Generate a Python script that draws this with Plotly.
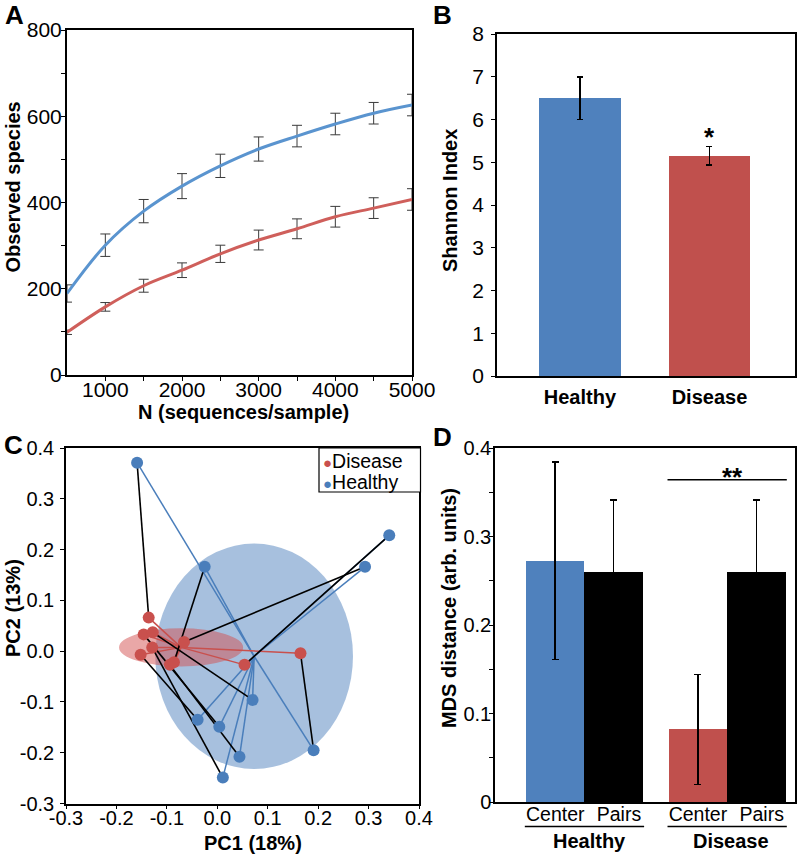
import plotly.graph_objects as go
import numpy as np

# ---------------- data ----------------
# Panel A: rarefaction
n_seq = [500, 1000, 1500, 2000, 2500, 3000, 3500, 4000, 4500, 5000]
healthy_obs = [189, 301, 380, 438, 485, 524, 554, 582, 607, 626]
healthy_err = [20, 26, 27, 29, 27, 28, 25, 25, 25, 25]
disease_obs = [99, 158, 207, 243, 281, 313, 339, 367, 387, 407]
disease_err = [5, 10, 15, 17, 20, 23, 23, 24, 24, 25]

# Panel B: Shannon index
shannon_groups = ["Healthy", "Disease"]
shannon_mean = [6.5, 5.15]
shannon_err = [0.5, 0.22]

# Panel C: PCoA
healthy_pc1 = [-0.159, -0.025, 0.341, 0.293, 0.070, -0.039, 0.004, 0.044, 0.011, 0.191]
healthy_pc2 = [0.371, 0.166, 0.228, 0.166, -0.096, -0.135, -0.149, -0.208, -0.249, -0.195]
disease_pc1 = [-0.136, -0.146, -0.128, -0.129, -0.152, -0.066, -0.094, -0.086, 0.054, 0.165]
disease_pc2 = [0.066, 0.033, 0.037, 0.007, -0.007, 0.018, -0.027, -0.022, -0.027, -0.004]
pair_healthy_idx = [0, 6, 4, 8, 5, 3, 7, 1, 2, 9]   # healthy partner of each disease sample
healthy_ellipse_radii = [0.196, 0.222]
disease_ellipse_radii = [0.123, 0.0375]
pc_ticks = [-0.3, -0.2, -0.1, 0.0, 0.1, 0.2, 0.3, 0.4]
pc_ticktext = ["-0.3", "-0.2", "-0.1", "0.0", "0.1", "0.2", "0.3", "0.4"]

# Panel D: MDS distances
mds_group = ["Healthy", "Healthy", "Disease", "Disease"]
mds_type = ["Center", "Pairs", "Center", "Pairs"]
mds_mean = [0.272, 0.260, 0.082, 0.260]
mds_err_plus = [0.112, 0.081, 0.062, 0.081]
mds_err_minus = [0.111, 0.078, 0.062, 0.078]
mds_ticks = [0, 0.1, 0.2, 0.3, 0.4]
mds_ticktext = ["0", "0.1", "0.2", "0.3", "0.4"]

# ---------------- style ----------------
FONT = "Liberation Sans, Arial, sans-serif"
BLUE = "#4f81bd"
RED = "#c0504d"
BLUE_PT = "#4a7ebb"
RED_PT = "#c9504d"
W, H = 800, 858


def px(x):
    return x / W


def py(y):
    return 1 - y / H


fig = go.Figure()

# ---- Panel A ----
fig.add_trace(go.Scatter(x=n_seq, y=healthy_obs, mode="lines",
                         line=dict(color="#5a94cf", width=3, shape="spline"),
                         error_y=dict(type="data", array=healthy_err, color="#3a3a3a", thickness=1, width=5),
                         cliponaxis=False, xaxis="x", yaxis="y", showlegend=False))
fig.add_trace(go.Scatter(x=n_seq, y=disease_obs, mode="lines",
                         line=dict(color="#cf5f5b", width=3, shape="spline"),
                         error_y=dict(type="data", array=disease_err, color="#3a3a3a", thickness=1, width=5),
                         cliponaxis=False, xaxis="x", yaxis="y", showlegend=False))

# ---- Panel B ----
fig.add_trace(go.Bar(x=shannon_groups, y=shannon_mean, width=0.63,
                     marker=dict(color=[BLUE, RED], line=dict(width=0)),
                     error_y=dict(type="data", array=shannon_err, color="black", thickness=1.5, width=3),
                     xaxis="x2", yaxis="y2", showlegend=False))

# ---- Panel C ----
hc = (float(np.mean(healthy_pc1)), float(np.mean(healthy_pc2)))
dc = (float(np.mean(disease_pc1)), float(np.mean(disease_pc2)))

# blue spokes to healthy centroid
bx, by = [], []
for a, b in zip(healthy_pc1, healthy_pc2):
    bx += [a, hc[0], None]
    by += [b, hc[1], None]
fig.add_trace(go.Scatter(x=bx, y=by, mode="lines", line=dict(color=BLUE_PT, width=1.5),
                         xaxis="x3", yaxis="y3", showlegend=False))
# red spokes to disease centroid
rx, ry = [], []
for a, b in zip(disease_pc1, disease_pc2):
    rx += [a, dc[0], None]
    ry += [b, dc[1], None]
fig.add_trace(go.Scatter(x=rx, y=ry, mode="lines", line=dict(color=RED_PT, width=1.5),
                         xaxis="x3", yaxis="y3", showlegend=False))
# black pair lines
kx, ky = [], []
for i, j in enumerate(pair_healthy_idx):
    kx += [disease_pc1[i], healthy_pc1[j], None]
    ky += [disease_pc2[i], healthy_pc2[j], None]
fig.add_trace(go.Scatter(x=kx, y=ky, mode="lines", line=dict(color="black", width=1.6),
                         xaxis="x3", yaxis="y3", showlegend=False))
fig.add_trace(go.Scatter(x=healthy_pc1, y=healthy_pc2, mode="markers",
                         marker=dict(color=BLUE_PT, size=12, line=dict(width=0)),
                         xaxis="x3", yaxis="y3", showlegend=False, cliponaxis=False))
fig.add_trace(go.Scatter(x=disease_pc1, y=disease_pc2, mode="markers",
                         marker=dict(color=RED_PT, size=12, line=dict(width=0)),
                         xaxis="x3", yaxis="y3", showlegend=False, cliponaxis=False))

# ---- Panel D ----
mds_pos = [1, 2, 3.44, 4.44]
label_offset = [0, 0.09, 0, 0.09]   # small horizontal nudge of the tick labels
mds_label_pos = [p + o for p, o in zip(mds_pos, label_offset)]
fig.add_trace(go.Bar(x=mds_pos, y=mds_mean, width=1.0,
                     marker=dict(color=[BLUE, "black", RED, "black"], line=dict(width=0)),
                     error_y=dict(type="data", array=mds_err_plus, arrayminus=mds_err_minus,
                                  color="black", thickness=1.5, width=3.5),
                     xaxis="x4", yaxis="y4", showlegend=False))

# ---------------- axes ----------------
tickfont = dict(family=FONT, size=21, color="black")
tickfont_s = dict(family=FONT, size=20, color="black")
common = dict(showgrid=False, zeroline=False, showline=True, linecolor="black", automargin=False,
              ticks="outside", tickcolor="black", ticklen=4, tickwidth=1.2, mirror=True)
common_nt = dict(showgrid=False, zeroline=False, showline=True, linecolor="black", automargin=False,
                 mirror=True, ticks="")

fig.update_layout(
    xaxis=dict(domain=[px(67), px(412)], range=[500, 5000], anchor="y",
               tickvals=[1000, 2000, 3000, 4000, 5000], linewidth=2, tickfont=tickfont,
               ticklabelstandoff=-9,
               minor=dict(tickvals=[1500, 2500, 3500, 4500], ticks="outside", ticklen=4, tickcolor="black"),
               **common),
    yaxis=dict(domain=[py(375), py(30)], range=[0, 800], anchor="x",
               tickvals=[0, 200, 400, 600, 800], linewidth=2, tickfont=tickfont,
               ticklabelstandoff=-5,
               minor=dict(tickvals=[100, 300, 500, 700], ticks="outside", ticklen=4, tickcolor="black"),
               **common),
    xaxis2=dict(domain=[px(497), px(795)], range=[-0.64, 1.66], anchor="y2", type="category",
                tickvals=shannon_groups, ticktext=["<b>%s</b>" % g for g in shannon_groups],
                tickfont=dict(family=FONT, size=20, color="black"), linewidth=1.5,
                ticklabelstandoff=2, **common_nt),
    yaxis2=dict(domain=[py(376), py(34)], range=[0, 8], anchor="x2", dtick=1, tickfont=tickfont,
                ticklabelstandoff=3, linewidth=1.5, **common),
    xaxis3=dict(domain=[px(66), px(419)], range=[-0.3, 0.4], anchor="y3",
                tickvals=pc_ticks, ticktext=pc_ticktext, tickfont=tickfont_s, linewidth=1.5,
                ticklabelstandoff=-8, **common),
    yaxis3=dict(domain=[py(803.5), py(448)], range=[-0.3, 0.4], anchor="x3",
                tickvals=pc_ticks, ticktext=pc_ticktext, tickfont=tickfont_s, linewidth=1.5,
                ticklabelstandoff=2, **common),
    xaxis4=dict(domain=[px(495), px(795)], range=[-0.03, 5.1], anchor="y4",
                tickvals=mds_label_pos, ticktext=mds_type, tickfont=dict(family=FONT, size=19.5, color="black"),
                linewidth=1.5, ticklabelstandoff=-6, **common_nt),
    yaxis4=dict(domain=[py(802), py(448)], range=[0, 0.4], anchor="x4",
                tickvals=mds_ticks, ticktext=mds_ticktext, tickfont=tickfont_s, linewidth=1.5,
                ticklabelstandoff=-6,
                minor=dict(tickvals=[0.05, 0.15, 0.25, 0.35], ticks="outside", ticklen=4, tickcolor="black"),
                **common),
)

# ---------------- shapes ----------------
shapes = [
    dict(type="circle", xref="x3", yref="y3",
         x0=hc[0] - healthy_ellipse_radii[0], x1=hc[0] + healthy_ellipse_radii[0],
         y0=hc[1] - healthy_ellipse_radii[1], y1=hc[1] + healthy_ellipse_radii[1],
         fillcolor="rgba(79,129,189,0.5)", line=dict(width=0), layer="below"),
    dict(type="circle", xref="x3", yref="y3",
         x0=dc[0] - disease_ellipse_radii[0], x1=dc[0] + disease_ellipse_radii[0],
         y0=dc[1] - disease_ellipse_radii[1], y1=dc[1] + disease_ellipse_radii[1],
         fillcolor="rgba(212,80,80,0.5)", line=dict(width=0), layer="below"),
    # legend box
    dict(type="rect", xref="paper", yref="paper", x0=px(319), x1=px(420.5), y0=py(492), y1=py(448),
         line=dict(color="black", width=1.2), fillcolor="white"),
    # panel D group underlines
    dict(type="line", xref="x4", yref="paper", x0=mds_pos[0] - 0.52, x1=mds_pos[1] + 0.52,
         y0=py(826.5), y1=py(826.5), line=dict(color="black", width=1.5)),
    dict(type="line", xref="x4", yref="paper", x0=mds_pos[2] - 0.52, x1=mds_pos[3] + 0.52,
         y0=py(826.5), y1=py(826.5), line=dict(color="black", width=1.5)),
    # significance bar
    dict(type="line", xref="x4", yref="y4", x0=mds_pos[2] - 0.52, x1=mds_pos[3] + 0.52,
         y0=0.364, y1=0.364, line=dict(color="black", width=1.5)),
]
fig.update_layout(shapes=shapes)

# ---------------- annotations ----------------
ann = []


def text(x, y, s, size=20, angle=0, xanchor="center", yanchor="middle", **kw):
    ann.append(dict(x=x, y=y, xref=kw.pop("xref", "paper"), yref=kw.pop("yref", "paper"),
                    text=s, showarrow=False, textangle=angle, xanchor=xanchor, yanchor=yanchor,
                    font=dict(family=FONT, size=size, color="black"), **kw))


# panel letters
text(px(14), py(15), "<b>A</b>", size=26)
text(px(442.5), py(15), "<b>B</b>", size=26)
text(px(13.5), py(445), "<b>C</b>", size=26)
text(px(442.5), py(437), "<b>D</b>", size=26)

# axis titles
text(px(12.5), py(187), "<b>Observed species</b>", angle=-90)
text(px(243.5), py(412), "<b>N (sequences/sample)</b>")
text(px(450), py(201), "<b>Shannon Index</b>", angle=-90)
text(px(13), py(608), "<b>PC2 (13%)</b>", angle=-90)
text(px(253), py(843), "<b>PC1 (18%)</b>")
text(px(449), py(608), "<b>MDS distance (arb. units)</b>", angle=-90)
text(px(589), py(841), "<b>Healthy</b>")
text(px(731), py(841), "<b>Disease</b>")

# significance marks
text("Disease", shannon_mean[1] + shannon_err[1], "<b>*</b>", size=26, yanchor="bottom",
     xref="x2", yref="y2", yshift=-8)
text(4.03, 0.364, "<b>**</b>", size=26, yanchor="bottom", xref="x4", yref="y4", yshift=-14)

# legend entries
text(px(321), py(461), "<span style='color:%s;font-size:15px'>●</span>Disease" % RED_PT,
     size=19.5, xanchor="left")
text(px(321), py(482), "<span style='color:%s;font-size:15px'>●</span>Healthy" % BLUE_PT,
     size=19.5, xanchor="left")

fig.update_layout(annotations=ann)

fig.update_layout(width=W, height=H, autosize=False, margin=dict(l=0, r=0, t=0, b=0, pad=0),
                  template="none", plot_bgcolor="white", paper_bgcolor="white",
                  font=dict(family=FONT, size=18, color="black"), bargap=0, showlegend=False)

fig.write_html("out.html", config={"displayModeBar": False},
               post_script="document.body.style.margin='0px';")
